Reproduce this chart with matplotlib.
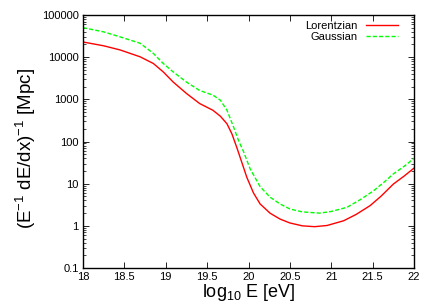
import matplotlib
matplotlib.use("Agg")
import matplotlib.pyplot as plt
import numpy as np
from matplotlib.ticker import LogLocator, NullFormatter

plt.rcParams['font.family'] = ['Liberation Sans', 'DejaVu Sans']
plt.rcParams['mathtext.fontset'] = 'custom'
plt.rcParams['mathtext.rm'] = 'Liberation Sans'
plt.rcParams['mathtext.it'] = 'Liberation Sans'

# log10 E [eV]
lor_E = [18.0, 18.25, 18.45, 18.69, 18.85, 18.97, 19.09, 19.25, 19.41, 19.57, 19.66,
         19.74, 19.8, 19.86, 19.92, 19.98, 20.06, 20.14, 20.26, 20.38, 20.5, 20.65,
         20.8, 20.95, 21.15, 21.3, 21.47, 21.6, 21.75, 21.88, 22.0]
lor_L = [22900, 18600, 14800, 10200, 7080, 4470, 2570, 1380, 794, 550, 398,
         263, 151, 70.8, 31.6, 14.1, 6.03, 3.31, 2.0, 1.45, 1.17, 1.0,
         0.955, 1.02, 1.32, 1.86, 3.02, 5.01, 9.77, 15.1, 23.4]

gau_E = [18.0, 18.25, 18.45, 18.69, 18.85, 18.97, 19.09, 19.25, 19.41, 19.57, 19.66,
         19.74, 19.82, 19.88, 19.94, 20.02, 20.14, 20.26, 20.38, 20.5, 20.65, 20.86,
         21.0, 21.19, 21.35, 21.51, 21.63, 21.75, 21.88, 22.0]
gau_L = [50100, 39800, 30200, 21400, 12300, 7080, 4470, 2570, 1620, 1260, 955,
         550, 219, 105, 57.5, 22.4, 8.51, 4.79, 3.31, 2.51, 2.14, 2.0,
         2.19, 2.75, 4.17, 6.76, 10.5, 17.0, 25.7, 39.8]

xticks = [18, 18.5, 19, 19.5, 20, 20.5, 21, 21.5, 22]
xticklabels = ['18', '18.5', '19', '19.5', '20', '20.5', '21', '21.5', '22']
yticks = [0.1, 1, 10, 100, 1000, 10000, 100000]
yticklabels = ['0.1', '1', '10', '100', '1000', '10000', '100000']

fig = plt.figure(figsize=(4.35, 3.05), dpi=100)
ax = fig.add_axes([83/435, 1-268/305, (414-83)/435, (268-15)/305])

ax.plot(lor_E, lor_L, color='#ff0000', lw=1.0, label='Lorentzian')
ax.plot(gau_E, gau_L, color='#00ff00', lw=1.0, ls=(0, (3, 1.5)), label='Gaussian')

ax.set_yscale('log')
ax.set_xlim(18, 22)
ax.set_ylim(0.1, 100000)
ax.set_xticks(xticks)
ax.set_xticklabels(xticklabels)
ax.set_yticks(yticks)
ax.set_yticklabels(yticklabels)
ax.yaxis.set_minor_locator(LogLocator(base=10, subs=np.arange(2, 10)))
ax.yaxis.set_minor_formatter(NullFormatter())
ax.tick_params(which='both', direction='in', top=True, right=True, labelsize=8, pad=3)
ax.tick_params(which='major', length=4, width=0.6)
ax.tick_params(which='minor', length=2, width=0.5)
for s in ax.spines.values():
    s.set_linewidth(1.0)

ax.set_xlabel(r'log$_{10}$ E [eV]', fontsize=13, labelpad=0)
ax.set_ylabel(r'(E$^{-1}$ dE/dx)$^{-1}$ [Mpc]', fontsize=13.5)
ax.yaxis.set_label_coords(-0.136, 0.474)

leg = ax.legend(loc='upper right', frameon=False, fontsize=8, markerfirst=False,
                handlelength=2.9, handletextpad=0.75, labelspacing=0.1,
                borderaxespad=0.3, bbox_to_anchor=(0.976, 1.008))

fig.savefig('out.png', dpi=100)
